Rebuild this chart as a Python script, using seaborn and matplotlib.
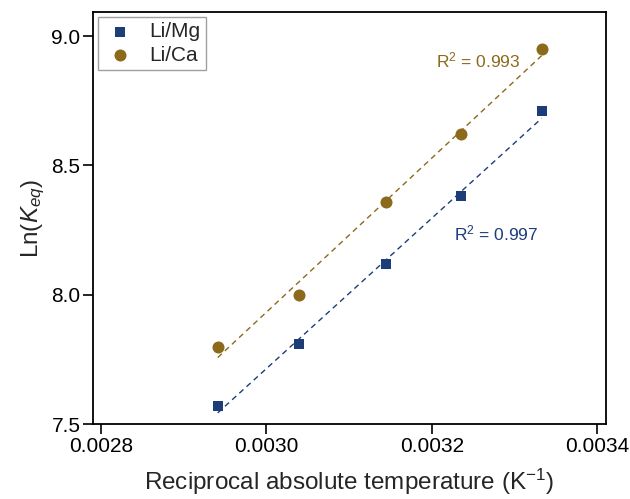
import numpy as np
import pandas as pd
import matplotlib
matplotlib.use("Agg")
import matplotlib.pyplot as plt
import seaborn as sns

# Data
inv_T = [0.002941, 0.003039, 0.003145, 0.003236, 0.003333]
ln_k_mg = [7.57, 7.81, 8.12, 8.38, 8.71]
ln_k_ca = [7.80, 8.00, 8.36, 8.62, 8.95]
series_names = ["Li/Mg", "Li/Ca"]
r2_labels = ["0.997", "0.993"]
x_ticks = [0.0028, 0.0030, 0.0032, 0.0034]
x_tick_labels = ["0.0028", "0.0030", "0.0032", "0.0034"]
y_ticks = [7.5, 8.0, 8.5, 9.0]
y_tick_labels = ["7.5", "8.0", "8.5", "9.0"]

sns.set_style("white")
plt.rcParams["font.family"] = ["Liberation Sans", "DejaVu Sans"]
plt.rcParams["mathtext.fontset"] = "custom"
plt.rcParams["mathtext.rm"] = "Liberation Sans"
plt.rcParams["mathtext.it"] = "Liberation Sans:italic"
plt.rcParams["mathtext.bf"] = "Liberation Sans:bold"

c_mg = "#1c3d78"
c_ca = "#8c6a1c"

fig = plt.figure(figsize=(6.30, 4.99), dpi=100)
ax = fig.add_axes([0.1476, 0.150, 0.962 - 0.1476, 0.976 - 0.150])

df_mg = pd.DataFrame({"x": inv_T, "y": ln_k_mg})
df_ca = pd.DataFrame({"x": inv_T, "y": ln_k_ca})

sns.regplot(data=df_mg, x="x", y="y", ax=ax, ci=None, marker="s", color=c_mg,
            scatter_kws={"s": 60, "linewidths": 0, "zorder": 3, "alpha": 1},
            line_kws={"linestyle": (0, (4, 3)), "linewidth": 1.0, "zorder": 2})
sns.regplot(data=df_ca, x="x", y="y", ax=ax, ci=None, marker="o", color=c_ca,
            scatter_kws={"s": 75, "linewidths": 0, "zorder": 3, "alpha": 1},
            line_kws={"linestyle": (0, (4, 3)), "linewidth": 1.0, "zorder": 2})

ax.set_xlim(0.00279, 0.003411)
ax.set_ylim(7.5, 9.093)
ax.set_xticks(x_ticks)
ax.set_xticklabels(x_tick_labels)
ax.set_yticks(y_ticks)
ax.set_yticklabels(y_tick_labels)
ax.tick_params(axis="both", direction="out", length=7, width=1.2, labelsize=15,
               bottom=True, left=True, top=False, right=False, colors="black")
ax.tick_params(axis="x", pad=2)
ax.tick_params(axis="y", pad=2)

for s in ax.spines.values():
    s.set_visible(True)
    s.set_color("black")
    s.set_linewidth(1.3)

ax.set_xlabel("Reciprocal absolute temperature (K$^{-1}$)", fontsize=17.5, labelpad=8)
ax.set_ylabel("Ln($K_{eq}$)", fontsize=17.5, labelpad=3)

ax.text(0.003205, 8.907, "R$^2$ = " + r2_labels[1], color=c_ca, fontsize=12.5,
        ha="left", va="center")
ax.text(0.003227, 8.238, "R$^2$ = " + r2_labels[0], color=c_mg, fontsize=12.5,
        ha="left", va="center")

handles = [ax.collections[0], ax.collections[1]]
leg = ax.legend(handles, series_names, loc="upper left", fontsize=15,
                frameon=True, fancybox=False, edgecolor="#888888",
                borderaxespad=0.25, handletextpad=0.6, borderpad=0.25,
                labelspacing=0.2, handlelength=1.6)
leg.get_frame().set_linewidth(1.0)

fig.savefig("out.png", dpi=100)
